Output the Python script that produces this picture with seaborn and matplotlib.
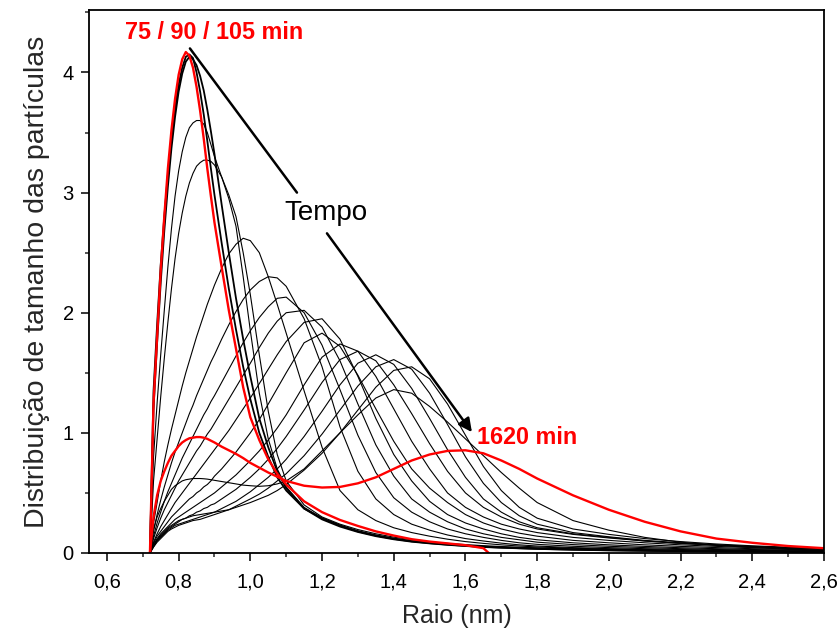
import matplotlib
matplotlib.use("Agg")
import matplotlib.pyplot as plt
import matplotlib.ticker as mticker
import seaborn as sns
import pandas as pd

# ---------------- data ----------------
RAIO = [0.72, 0.73, 0.74, 0.75, 0.76, 0.77, 0.78, 0.79, 0.80, 0.81, 0.82, 0.83, 0.84,
        0.85, 0.86, 0.87, 0.88, 0.89, 0.90, 0.92, 0.94, 0.96, 0.98, 1.00, 1.025, 1.05,
        1.075, 1.10, 1.15, 1.20, 1.25, 1.30, 1.35, 1.40, 1.45, 1.50, 1.55, 1.60, 1.65,
        1.70, 1.75, 1.80, 1.90, 2.00, 2.10, 2.20, 2.30, 2.40, 2.50, 2.60]

# 75 min curve (red) stops at 1.665 nm
RAIO_75 = RAIO[:39] + [1.665]
T75 = [0, 1.25, 1.8, 2.35, 2.8, 3.2, 3.52, 3.78, 3.98, 4.11, 4.17, 4.14, 4.04, 3.88, 3.68,
       3.45, 3.2, 2.97, 2.75, 2.38, 2.02, 1.7, 1.38, 1.13, 0.94, 0.78, 0.66, 0.57, 0.43,
       0.34, 0.275, 0.225, 0.18, 0.145, 0.115, 0.095, 0.08, 0.065, 0.04, 0]

T90 = [0, 1.35, 1.9, 2.4, 2.8, 3.15, 3.45, 3.7, 3.9, 4.04, 4.13, 4.15, 4.12, 4.0, 3.84,
       3.65, 3.43, 3.2, 2.98, 2.58, 2.2, 1.86, 1.55, 1.28, 1.0, 0.8, 0.63, 0.52, 0.37,
       0.29, 0.23, 0.18, 0.145, 0.118, 0.097, 0.082, 0.07, 0.06, 0.052, 0.045, 0.04,
       0.035, 0.028, 0.023, 0.019, 0.016, 0.013, 0.011, 0.01, 0.009]
T105 = [0, 1.2, 1.75, 2.25, 2.68, 3.05, 3.37, 3.63, 3.84, 3.99, 4.09, 4.13, 4.11, 4.06,
        3.97, 3.85, 3.69, 3.51, 3.32, 2.9, 2.5, 2.12, 1.78, 1.47, 1.12, 0.88, 0.68, 0.54,
        0.37, 0.28, 0.22, 0.175, 0.14, 0.114, 0.094, 0.08, 0.068, 0.058, 0.05, 0.044,
        0.039, 0.034, 0.027, 0.022, 0.018, 0.015, 0.013, 0.011, 0.01, 0.009]

C3 = [0, 0.8, 1.25, 1.65, 2.02, 2.38, 2.7, 2.97, 3.18, 3.34, 3.46, 3.54, 3.58, 3.6, 3.6,
      3.57, 3.5, 3.4, 3.3, 3.13, 2.95, 2.72, 2.3, 1.85, 1.33, 0.95, 0.7, 0.55, 0.38, 0.29,
      0.23, 0.185, 0.15, 0.123, 0.102, 0.086, 0.074, 0.064, 0.056, 0.049, 0.043, 0.038,
      0.031, 0.025, 0.021, 0.018, 0.015, 0.013, 0.011, 0.01]
C4 = [0, 0.6, 0.95, 1.3, 1.62, 1.92, 2.2, 2.45, 2.66, 2.83, 2.97, 3.08, 3.16, 3.22, 3.25,
      3.27, 3.27, 3.26, 3.23, 3.13, 2.98, 2.8, 2.5, 2.15, 1.65, 1.18, 0.82, 0.6, 0.4, 0.3,
      0.24, 0.195, 0.16, 0.132, 0.11, 0.093, 0.08, 0.07, 0.061, 0.054, 0.048, 0.043,
      0.035, 0.029, 0.024, 0.02, 0.017, 0.015, 0.013, 0.011]
C5 = [0, 0.25, 0.42, 0.6, 0.76, 0.9, 1.03, 1.15, 1.27, 1.39, 1.5, 1.6, 1.7, 1.8, 1.89,
      1.98, 2.07, 2.15, 2.23, 2.37, 2.49, 2.57, 2.62, 2.6, 2.5, 2.3, 2.07, 1.83, 1.35,
      0.88, 0.52, 0.36, 0.27, 0.21, 0.17, 0.14, 0.115, 0.095, 0.08, 0.068, 0.058, 0.05,
      0.04, 0.032, 0.026, 0.021, 0.017, 0.014, 0.012, 0.01]
C6 = [0, 0.18, 0.32, 0.44, 0.55, 0.65, 0.75, 0.84, 0.92, 1.0, 1.08, 1.16, 1.23, 1.31,
      1.38, 1.45, 1.52, 1.59, 1.65, 1.78, 1.9, 2.01, 2.11, 2.19, 2.26, 2.3, 2.29, 2.22,
      1.95, 1.55, 1.05, 0.68, 0.45, 0.32, 0.24, 0.19, 0.15, 0.12, 0.1, 0.082, 0.068,
      0.058, 0.045, 0.036, 0.029, 0.023, 0.019, 0.015, 0.012, 0.01]
C7 = [0, 0.14, 0.25, 0.34, 0.43, 0.51, 0.58, 0.65, 0.72, 0.79, 0.85, 0.91, 0.97, 1.03,
      1.09, 1.15, 1.2, 1.26, 1.31, 1.42, 1.53, 1.64, 1.75, 1.85, 1.96, 2.05, 2.12, 2.13,
      2.0, 1.73, 1.36, 0.98, 0.67, 0.46, 0.34, 0.26, 0.2, 0.16, 0.13, 0.105, 0.085,
      0.072, 0.056, 0.045, 0.036, 0.029, 0.024, 0.019, 0.016, 0.013]
C8 = [0, 0.12, 0.21, 0.29, 0.36, 0.42, 0.48, 0.54, 0.6, 0.65, 0.7, 0.75, 0.8, 0.85, 0.89,
      0.94, 0.99, 1.03, 1.08, 1.18, 1.28, 1.38, 1.48, 1.58, 1.71, 1.83, 1.93, 2.0, 2.02,
      1.88, 1.6, 1.24, 0.9, 0.64, 0.45, 0.34, 0.26, 0.2, 0.16, 0.13, 0.11, 0.09, 0.07,
      0.056, 0.045, 0.036, 0.029, 0.024, 0.019, 0.016]
C9 = [0, 0.09, 0.16, 0.22, 0.27, 0.32, 0.37, 0.42, 0.46, 0.5, 0.54, 0.58, 0.62, 0.66, 0.7,
      0.74, 0.78, 0.82, 0.86, 0.94, 1.02, 1.11, 1.2, 1.29, 1.41, 1.53, 1.65, 1.76, 1.92,
      1.95, 1.78, 1.47, 1.12, 0.82, 0.6, 0.43, 0.32, 0.25, 0.2, 0.16, 0.13, 0.11, 0.085,
      0.068, 0.055, 0.044, 0.036, 0.029, 0.024, 0.019]
C10 = [0, 0.08, 0.14, 0.18, 0.22, 0.26, 0.3, 0.33, 0.36, 0.39, 0.42, 0.45, 0.47, 0.5,
       0.52, 0.55, 0.57, 0.6, 0.64, 0.7, 0.77, 0.84, 0.92, 1.0, 1.11, 1.24, 1.37, 1.5,
       1.75, 1.83, 1.72, 1.48, 1.2, 0.93, 0.7, 0.54, 0.42, 0.32, 0.25, 0.2, 0.165, 0.14,
       0.105, 0.085, 0.068, 0.055, 0.045, 0.036, 0.03, 0.024]
C11 = [0, 0.07, 0.12, 0.16, 0.19, 0.22, 0.25, 0.28, 0.3, 0.32, 0.34, 0.36, 0.38, 0.4,
       0.42, 0.44, 0.46, 0.48, 0.5, 0.55, 0.6, 0.65, 0.71, 0.77, 0.85, 0.94, 1.04, 1.15,
       1.4, 1.63, 1.74, 1.68, 1.47, 1.2, 0.93, 0.7, 0.5, 0.38, 0.3, 0.24, 0.2, 0.17,
       0.13, 0.105, 0.085, 0.068, 0.055, 0.045, 0.037, 0.03]
C12 = [0, 0.06, 0.11, 0.14, 0.17, 0.2, 0.22, 0.24, 0.26, 0.28, 0.29, 0.31, 0.32, 0.34,
       0.35, 0.37, 0.38, 0.4, 0.41, 0.45, 0.49, 0.53, 0.58, 0.63, 0.7, 0.78, 0.87, 0.97,
       1.19, 1.42, 1.61, 1.68, 1.6, 1.4, 1.16, 0.91, 0.68, 0.5, 0.38, 0.3, 0.24, 0.2,
       0.155, 0.125, 0.1, 0.08, 0.065, 0.053, 0.043, 0.035]
C13 = [0, 0.05, 0.1, 0.13, 0.16, 0.19, 0.21, 0.23, 0.24, 0.25, 0.26, 0.27, 0.28, 0.29,
       0.3, 0.31, 0.32, 0.33, 0.34, 0.37, 0.4, 0.43, 0.47, 0.51, 0.57, 0.63, 0.7, 0.78,
       0.97, 1.18, 1.4, 1.58, 1.65, 1.57, 1.37, 1.12, 0.86, 0.63, 0.45, 0.34, 0.26, 0.21,
       0.16, 0.13, 0.1, 0.08, 0.065, 0.052, 0.042, 0.034]
C14 = [0, 0.05, 0.09, 0.12, 0.15, 0.18, 0.2, 0.215, 0.23, 0.24, 0.25, 0.26, 0.27, 0.275,
       0.28, 0.29, 0.3, 0.31, 0.32, 0.34, 0.36, 0.39, 0.42, 0.45, 0.49, 0.54, 0.6, 0.66,
       0.81, 0.99, 1.19, 1.39, 1.55, 1.61, 1.53, 1.33, 1.07, 0.8, 0.58, 0.42, 0.31, 0.24,
       0.17, 0.135, 0.105, 0.085, 0.068, 0.055, 0.044, 0.036]
C15 = [0, 0.06, 0.11, 0.15, 0.18, 0.21, 0.23, 0.25, 0.27, 0.28, 0.29, 0.3, 0.31, 0.315,
       0.32, 0.325, 0.33, 0.335, 0.34, 0.35, 0.36, 0.38, 0.4, 0.42, 0.45, 0.48, 0.52,
       0.57, 0.69, 0.83, 1.0, 1.19, 1.38, 1.52, 1.55, 1.45, 1.24, 0.98, 0.72, 0.52, 0.38,
       0.29, 0.2, 0.155, 0.12, 0.095, 0.075, 0.06, 0.048, 0.039]
C16 = [0, 0.2, 0.3, 0.37, 0.43, 0.48, 0.53, 0.56, 0.58, 0.6, 0.61, 0.615, 0.62, 0.62,
       0.62, 0.618, 0.615, 0.61, 0.605, 0.595, 0.585, 0.575, 0.565, 0.56, 0.555, 0.56,
       0.575, 0.6, 0.7, 0.85, 1.0, 1.15, 1.29, 1.36, 1.33, 1.22, 1.09, 0.95, 0.81, 0.67,
       0.54, 0.42, 0.27, 0.19, 0.13, 0.09, 0.065, 0.045, 0.032, 0.022]
T1620 = [0, 0.3, 0.48, 0.6, 0.68, 0.75, 0.81, 0.85, 0.89, 0.92, 0.94, 0.955, 0.96, 0.965,
         0.965, 0.96, 0.95, 0.935, 0.92, 0.885, 0.855, 0.825, 0.79, 0.75, 0.71, 0.67,
         0.635, 0.6, 0.56, 0.545, 0.55, 0.58, 0.63, 0.7, 0.77, 0.82, 0.85, 0.855, 0.83,
         0.77, 0.7, 0.62, 0.48, 0.36, 0.26, 0.18, 0.12, 0.085, 0.058, 0.04]

BLACK_THIN = {"C3": C3, "C4": C4, "C5": C5, "C6": C6, "C7": C7, "C8": C8, "C9": C9,
              "C10": C10, "C11": C11, "C12": C12, "C13": C13, "C14": C14, "C15": C15,
              "C16": C16}
BLACK_EARLY = {"90 min": T90, "105 min": T105}

X_TICKS = [0.6, 0.8, 1.0, 1.2, 1.4, 1.6, 1.8, 2.0, 2.2, 2.4, 2.6]
Y_TICKS = [0, 1, 2, 3, 4]

LABEL_EARLY = "75 / 90 / 105 min"
LABEL_LATE = "1620 min"
LABEL_TEMPO = "Tempo"
X_LABEL = "Raio (nm)"
Y_LABEL = "Distribuição de tamanho das partículas"

# ---------------- styling ----------------
sns.set_theme(style="ticks")
plt.rcParams["font.family"] = ["Liberation Sans", "DejaVu Sans"]

fig = plt.figure(figsize=(8.4, 6.31), dpi=100)
ax = fig.add_axes([89 / 840, 78 / 631, 735 / 840, 543 / 631])


def long_frame(curves):
    rows = []
    for name, ys in curves.items():
        for x, y in zip(RAIO, ys):
            rows.append({"raio": x, "dist": y, "curva": name})
    return pd.DataFrame(rows)


df_thin = long_frame(BLACK_THIN)
df_early = long_frame(BLACK_EARLY)
df_75 = pd.DataFrame({"raio": RAIO_75, "dist": T75})
df_1620 = pd.DataFrame({"raio": RAIO, "dist": T1620})

sns.lineplot(data=df_thin, x="raio", y="dist", units="curva", estimator=None,
             color="black", linewidth=0.8, sort=False, ax=ax)
sns.lineplot(data=df_early, x="raio", y="dist", units="curva", estimator=None,
             color="black", linewidth=1.3, sort=False, ax=ax)
sns.lineplot(data=df_75, x="raio", y="dist", color="#ff0000", linewidth=1.7,
             sort=False, ax=ax)
sns.lineplot(data=df_1620, x="raio", y="dist", color="#ff0000", linewidth=1.7,
             sort=False, ax=ax)

ax.set_xlim(0.55, 2.6)
ax.set_ylim(0, 4.52)
ax.set_xticks(X_TICKS)
ax.set_yticks(Y_TICKS)
ax.xaxis.set_minor_locator(mticker.MultipleLocator(0.1))
ax.yaxis.set_minor_locator(mticker.MultipleLocator(0.5))
ax.xaxis.set_major_formatter(mticker.FuncFormatter(lambda v, p: f"{v:.1f}".replace(".", ",")))
ax.yaxis.set_major_formatter(mticker.FuncFormatter(lambda v, p: f"{v:.0f}"))
ax.tick_params(axis="x", which="major", direction="out", length=6, width=1.1,
               labelsize=14.5, colors="black", pad=8)
ax.tick_params(axis="y", which="major", direction="out", length=6, width=1.1,
               labelsize=14.5, colors="black", pad=5)
ax.tick_params(which="minor", direction="out", length=3, width=1.1)
for s in ax.spines.values():
    s.set_visible(True)
    s.set_linewidth(1.3)
    s.set_color("black")

ax.set_xlabel(X_LABEL, fontsize=18, labelpad=9)
ax.set_ylabel(Y_LABEL, fontsize=20.5, labelpad=9)

# annotations
ax.text(0.650, 4.33, LABEL_EARLY, color="#ff0000", fontsize=16.8, fontweight="bold",
        ha="left", va="center")
ax.text(1.632, 0.965, LABEL_LATE, color="#ff0000", fontsize=16.8, fontweight="bold",
        ha="left", va="center")
ax.text(1.211, 2.83, LABEL_TEMPO, color="black", fontsize=20, ha="center", va="center")
ax.plot([0.8315, 1.130], [4.20, 3.00], color="black", linewidth=1.8)
ax.annotate("", xy=(1.618, 1.006), xytext=(1.2137, 2.661),
            arrowprops=dict(arrowstyle="-|>", color="black", lw=1.8, mutation_scale=20,
                            shrinkA=0, shrinkB=0))

fig.savefig("out.png", dpi=100)
